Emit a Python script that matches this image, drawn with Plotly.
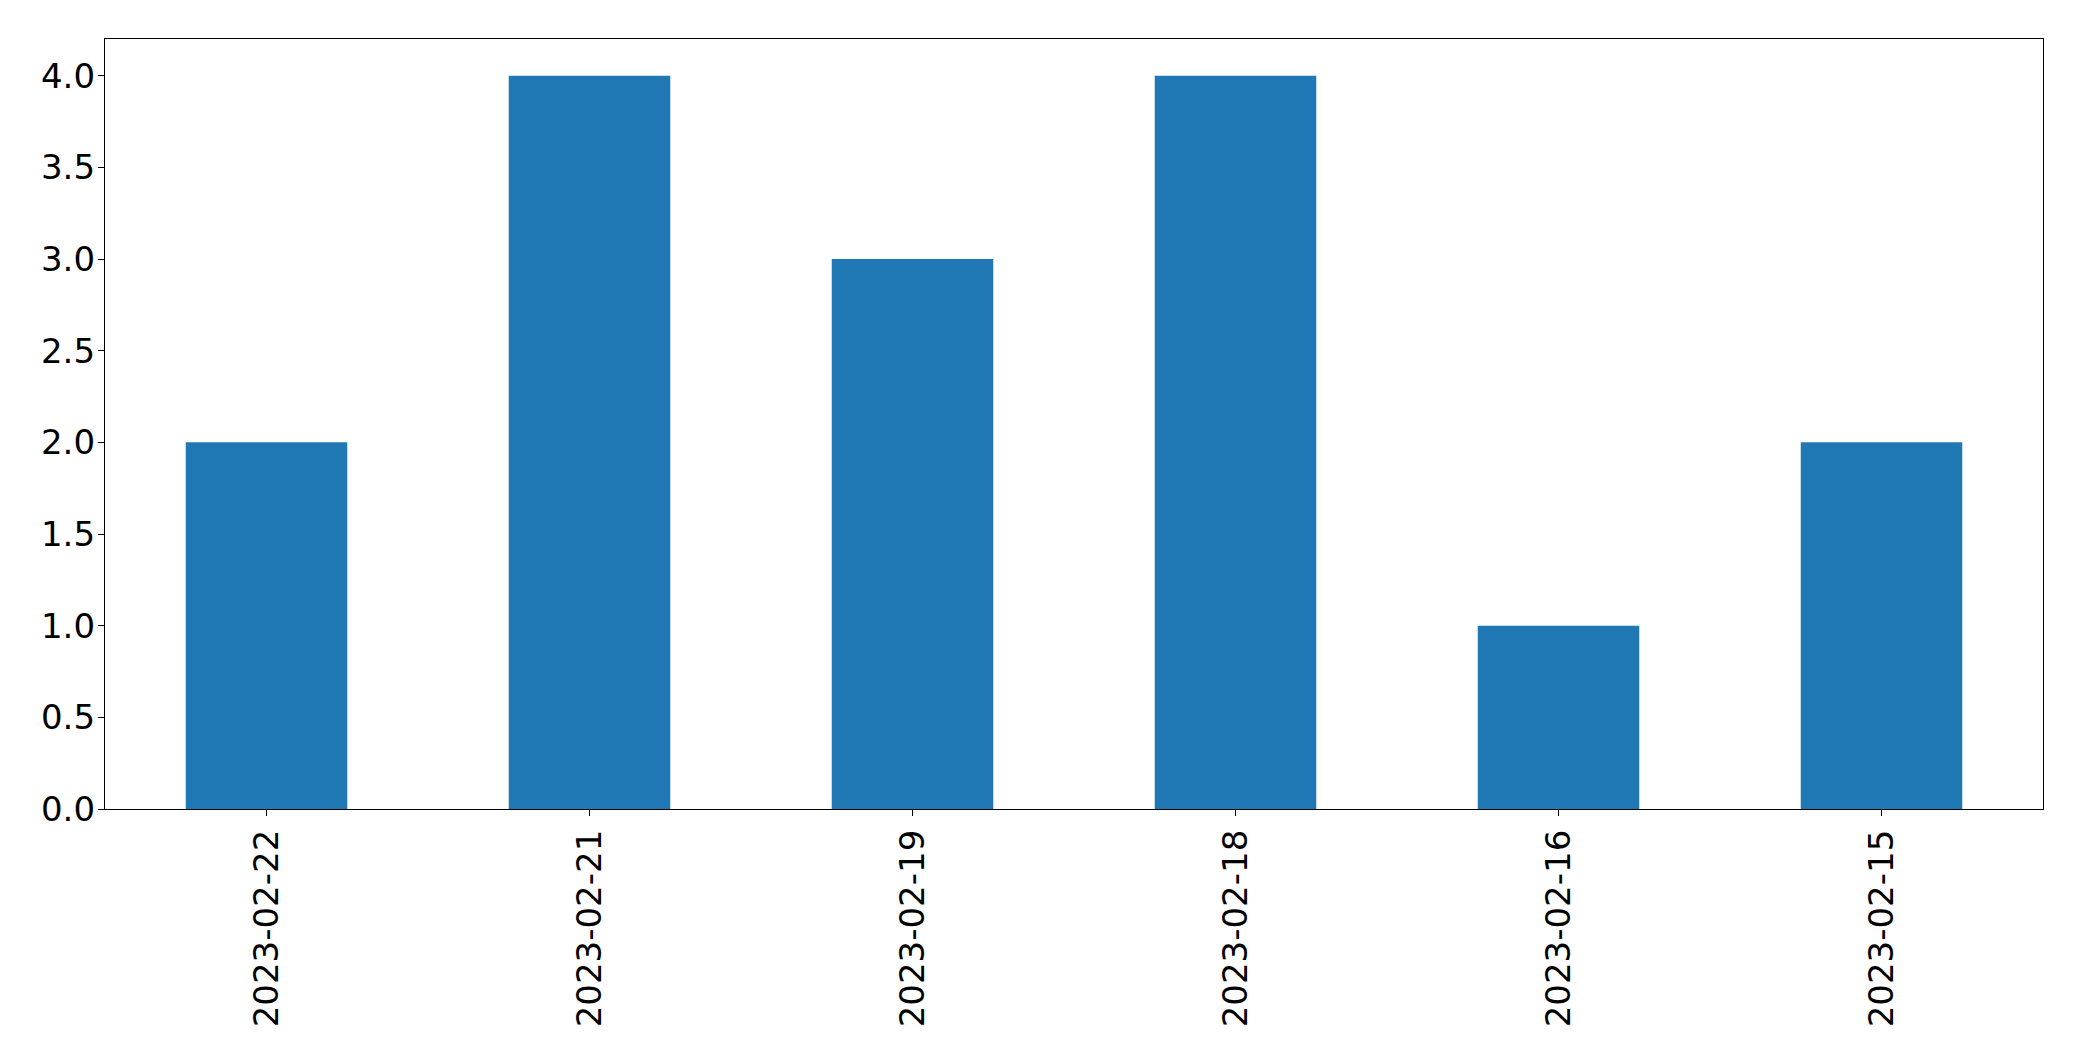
import plotly.graph_objects as go

dates = ["2023-02-22", "2023-02-21", "2023-02-19", "2023-02-18", "2023-02-16", "2023-02-15"]
counts = [2, 4, 3, 4, 1, 2]

fig = go.Figure(go.Bar(x=dates, y=counts, marker_color="#1f77b4", marker_line_width=0, width=0.5))

fig.update_layout(
    width=2082, height=1061,
    margin=dict(l=97, r=47, t=31, b=260),
    plot_bgcolor="white", paper_bgcolor="white",
    font=dict(family="DejaVu Sans", size=34, color="black"),
    showlegend=False,
)
fig.update_xaxes(
    type="category", range=[-0.5, 5.5], tickangle=-90,
    showline=True, linecolor="black", linewidth=1.3, mirror=True,
    ticks="outside", ticklen=6, tickwidth=1.3, tickcolor="black",
    showgrid=False, zeroline=False,
)
fig.update_yaxes(
    range=[0, 4.2], dtick=0.5, tick0=0, tickformat=".1f",
    showline=True, linecolor="black", linewidth=1.3, mirror=True,
    ticks="outside", ticklen=6, tickwidth=1.3, tickcolor="black",
    ticklabelstandoff=-4,
    showgrid=False, zeroline=False,
)

fig.write_html("out.html")
